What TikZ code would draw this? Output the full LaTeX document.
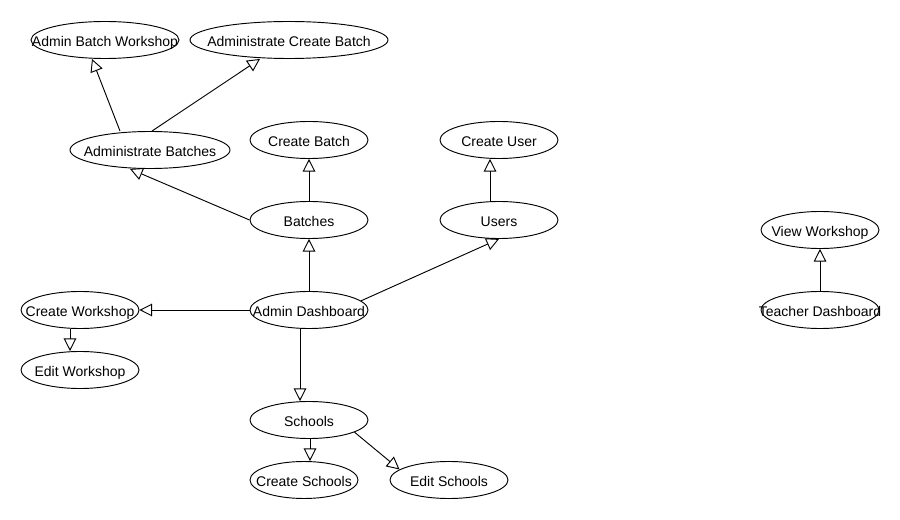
\documentclass[tikz,border=0pt]{standalone}
\usepackage{fontspec}
\setmainfont{Liberation Sans}
\usetikzlibrary{shapes.geometric,arrows.meta}
\newcommand{\lbl}[1]{\makebox[0pt]{#1}}

\begin{document}
\begin{tikzpicture}[x=0.75pt,y=-0.75pt,line width=0.7pt,
    >={Triangle[open,length=9.5pt,width=9.5pt]},
    every node/.style={ellipse,draw,inner sep=0pt,minimum width=88.5pt,
      minimum height=27.75pt,text height=10pt,text depth=0pt,
      font=\fontsize{10.5}{12}\selectfont}]
      \useasboundingbox (0,0) rectangle (900,520);
      \node(abw) at (105,40) [minimum width=111pt] {\lbl{Admin Batch Workshop}};
      \node(acb) at (289,40) [minimum width=148.5pt] {\lbl{Administrate Create Batch}};
      \node(ab) at (150,150) [minimum width=120pt] {\lbl{Administrate Batches}};
      \node(cb) at (309,140) {\lbl{Create Batch}};
      \node(cu) at (499,140) {\lbl{Create User}};
      \node(bat) at (309,220) {\lbl{Batches}};
      \node(usr) at (499,220) {\lbl{Users}};
      \node(vw) at (820,230) {\lbl{View Workshop}};
      \node(cw) at (80,310) {\lbl{Create Workshop}};
      \node(dash) at (309,310) {\lbl{Admin Dashboard}};
      \node(td) at (820,310) {\lbl{Teacher Dashboard}};
      \node(ew) at (80,370) {\lbl{Edit Workshop}};
      \node(sch) at (309,420) {\lbl{Schools}};
      \node(cs) at (304,480) [minimum width=81pt] {\lbl{Create Schools}};
      \node(es) at (449,480) {\lbl{Edit Schools}};
      % batches side
      \path[->] ([xshift=-22.5pt]ab.north) edge ([xshift=-9.75pt]abw.south);
      \path[->] ([xshift=1.5pt]ab.north) edge ([xshift=-21.75pt]acb.south);
      \path[->] (bat.west) edge ([xshift=-15pt]ab.south);
      \path[->] (bat.north) edge (cb.south);
      \path[->] (dash.north) edge (bat.south);
      % users
      \path[->] (dash.10) edge (usr.south);
      \path[->] ([xshift=-6.75pt]usr.north) edge ([xshift=-6.75pt]cu.south);
      % workshops
      \path[->] (dash.west) edge (cw.east);
      \path[->] ([xshift=-7.5pt]cw.south) edge ([xshift=-7.5pt]ew.north);
      % schools
      \path[->] ([xshift=-6.75pt]dash.south) edge ([xshift=-6.75pt]sch.north);
      \path[->] ([xshift=0.75pt]sch.south) edge ([xshift=4.5pt]cs.north);
      \path[->] (sch.345) edge (es.168);
      % teacher
      \path[->] (td.north) edge (vw.south);
\end{tikzpicture}
\end{document}
